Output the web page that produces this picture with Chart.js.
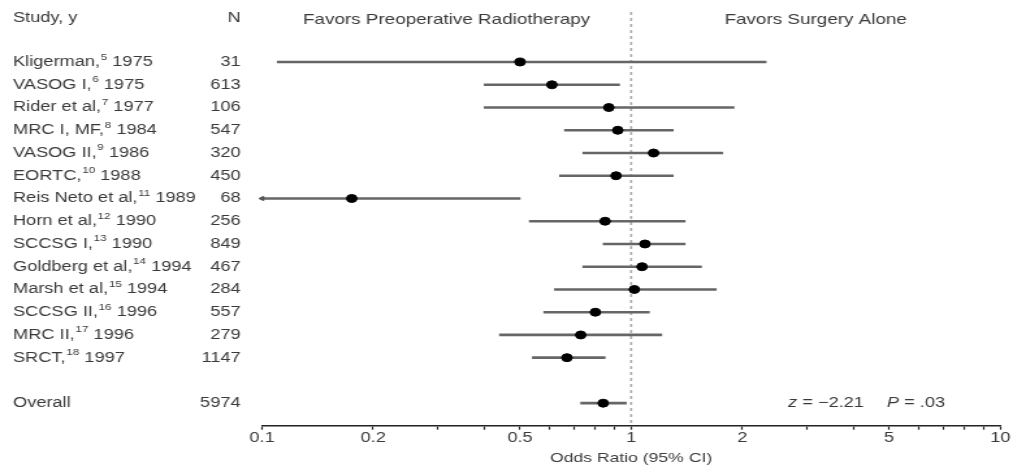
<!DOCTYPE html>
<html>
<head>
<meta charset="utf-8">
<script src="https://cdn.jsdelivr.net/npm/chart.js@4/dist/chart.umd.min.js"></script>
<style>
  html, body { margin: 0; padding: 0; background: #fff; }
</style>
</head>
<body>
<!-- the source figure is stretched sideways, so the canvas is drawn narrow and widened by css -->
<canvas id="forest" width="779" height="469" style="display:block;width:1013px;height:469px;"></canvas>
<script>
// study rows
const studies = ["Kligerman,", "VASOG I,", "Rider et al,", "MRC I, MF,", "VASOG II,", "EORTC,",
    "Reis Neto et al,", "Horn et al,", "SCCSG I,", "Goldberg et al,", "Marsh et al,",
    "SCCSG II,", "MRC II,", "SRCT,"];
const refs = [5, 6, 7, 8, 9, 10, 11, 12, 13, 14, 15, 16, 17, 18];
const years = [1975, 1975, 1977, 1984, 1986, 1988, 1989, 1990, 1990, 1994, 1994, 1996, 1996, 1997];
const nValues = [31, 613, 106, 547, 320, 450, 68, 256, 849, 467, 284, 557, 279, 1147];
const oddsRatio = [0.50, 0.61, 0.87, 0.92, 1.15, 0.91, 0.175, 0.85, 1.09, 1.07, 1.02, 0.80, 0.73, 0.67];
const ciLow = [0.11, 0.40, 0.40, 0.66, 0.74, 0.64, 0.05, 0.53, 0.84, 0.74, 0.62, 0.58, 0.44, 0.54];
const ciHigh = [2.32, 0.93, 1.90, 1.30, 1.77, 1.30, 0.50, 1.40, 1.40, 1.55, 1.70, 1.12, 1.21, 0.85];

// pooled result
const overallLabel = "Overall";
const overallN = 5974;
const overallOR = 0.84;
const overallLow = 0.73;
const overallHigh = 0.97;
const zText = "\u2212" + "2.21";
const pText = ".03";

// axis
const tickValues = [0.1, 0.2, 0.3, 0.4, 0.5, 0.6, 0.7, 0.8, 0.9, 1, 2, 3, 4, 5, 6, 7, 8, 9, 10];
const tickLabels = [0.1, 0.2, 0.5, 1, 2, 5, 10];
const xMin = 0.1, xMax = 10;

const FONT = '"Liberation Sans", Arial, Helvetica, sans-serif';
const TEXT = "#3a3a3a";

// overall sits one empty row below the last study
const overallRow = studies.length + 1;
const yMin = -2.2, yMax = overallRow + 0.99;

const allOR = oddsRatio.concat([overallOR]);
const allLow = ciLow.concat([overallLow]);
const allHigh = ciHigh.concat([overallHigh]);
const rowOf = i => (i < studies.length ? i : overallRow);

const pointData = allOR.map((v, i) => ({ x: v, y: rowOf(i) }));
const barData = allOR.map((v, i) => ({ x: [allLow[i], allHigh[i]], y: rowOf(i) }));
const arrowData = allLow.map((v, i) => ({ v, i }))
    .filter(d => d.v < xMin)
    .map(d => ({ x: xMin, y: rowOf(d.i) }));

// labels, N column, headers and stats text
const textPlugin = {
    id: "forestText",
    afterDraw(chart) {
        const ctx = chart.ctx;
        const xs = chart.scales.x, ys = chart.scales.y;
        const labelX = 10, nX = 185;

        ctx.save();
        ctx.fillStyle = TEXT;
        ctx.textBaseline = "middle";
        ctx.font = "14px " + FONT;

        // headers
        ctx.textAlign = "left";
        ctx.fillText("Study, y", labelX, 18);
        ctx.textAlign = "right";
        ctx.fillText("N", nX, 18);

        ctx.font = "14.5px " + FONT;
        ctx.textAlign = "center";
        const mid = xs.getPixelForValue(1);
        ctx.fillText("Favors Preoperative Radiotherapy", (xs.getPixelForValue(xMin) + mid) / 2, 20);
        ctx.fillText("Favors Surgery Alone", (mid + xs.getPixelForValue(xMax)) / 2, 20);

        // study rows
        studies.forEach((name, i) => {
            const y = ys.getPixelForValue(i);
            ctx.textAlign = "left";
            ctx.font = "14px " + FONT;
            ctx.fillText(name, labelX, y);
            let x = labelX + ctx.measureText(name).width;
            ctx.font = "9px " + FONT;
            ctx.fillText(String(refs[i]), x + 0.5, y - 5);
            x += ctx.measureText(String(refs[i])).width + 0.5;
            ctx.font = "14px " + FONT;
            ctx.fillText(" " + years[i], x, y);
            ctx.textAlign = "right";
            ctx.fillText(String(nValues[i]), nX, y);
        });

        // overall row
        const yo = ys.getPixelForValue(overallRow);
        ctx.font = "14px " + FONT;
        ctx.textAlign = "left";
        ctx.fillText(overallLabel, labelX, yo);
        ctx.textAlign = "right";
        ctx.fillText(String(overallN), nX, yo);

        // z and P
        ctx.textAlign = "left";
        ctx.font = "italic 14px " + FONT;
        ctx.fillText("z", 606, yo);
        ctx.font = "14px " + FONT;
        ctx.fillText(" = " + zText, 606 + ctx.measureText("z").width, yo);
        ctx.font = "italic 14px " + FONT;
        ctx.fillText("P", 682, yo);
        ctx.font = "14px " + FONT;
        ctx.fillText(" = " + pText, 682 + ctx.measureText("P").width, yo);
        ctx.restore();
    }
};

const chart = new Chart(document.getElementById("forest"), {
    type: "scatter",
    data: {
        datasets: [
            {
                label: "Odds ratio",
                data: pointData,
                pointStyle: "circle",
                pointRadius: 4,
                pointBackgroundColor: "#000",
                pointBorderColor: "#000",
                pointBorderWidth: 1
            },
            {
                label: "Arrow",
                data: arrowData,
                pointStyle: "triangle",
                rotation: 270,
                pointRadius: 2.5,
                pointBackgroundColor: "#555",
                pointBorderColor: "#555",
                clip: false
            },
            {
                type: "bar",
                label: "95% CI",
                indexAxis: "y",
                data: barData,
                backgroundColor: "#666",
                borderWidth: 0,
                barThickness: 2,
                grouped: false
            },
            {
                type: "line",
                label: "No effect",
                data: [{ x: 1, y: yMin }, { x: 1, y: yMax }],
                borderColor: "#a8a8a8",
                borderWidth: 1.6,
                borderDash: [3, 3],
                pointRadius: 0,
                fill: false
            }
        ]
    },
    options: {
        responsive: false,
        animation: false,
        events: [],
        layout: { padding: { left: 201.5, right: 9.8, top: 12, bottom: 2.3 } },
        plugins: {
            legend: { display: false },
            tooltip: { enabled: false }
        },
        scales: {
            x: {
                type: "logarithmic",
                min: xMin,
                max: xMax,
                offset: false,
                afterBuildTicks: scale => {
                    scale.ticks = tickValues.map(v => ({ value: v }));
                },
                ticks: {
                    autoSkip: false,
                    maxRotation: 0,
                    padding: 0,
                    color: TEXT,
                    font: { family: FONT, size: 14 },
                    callback: v => (tickLabels.includes(v) ? String(v) : "")
                },
                grid: {
                    drawOnChartArea: false,
                    drawTicks: true,
                    tickLength: 4,
                    tickWidth: 1.2,
                    tickColor: "#222"
                },
                border: { display: true, color: "#222", width: 1.6 },
                title: {
                    display: true,
                    text: "Odds Ratio (95% CI)",
                    color: TEXT,
                    font: { family: FONT, size: 13.5 },
                    padding: { top: 4, bottom: 0 }
                }
            },
            y: {
                type: "linear",
                display: false,
                reverse: true,
                min: yMin,
                max: yMax,
                offset: false
            }
        }
    },
    plugins: [textPlugin]
});
</script>
</body>
</html>
